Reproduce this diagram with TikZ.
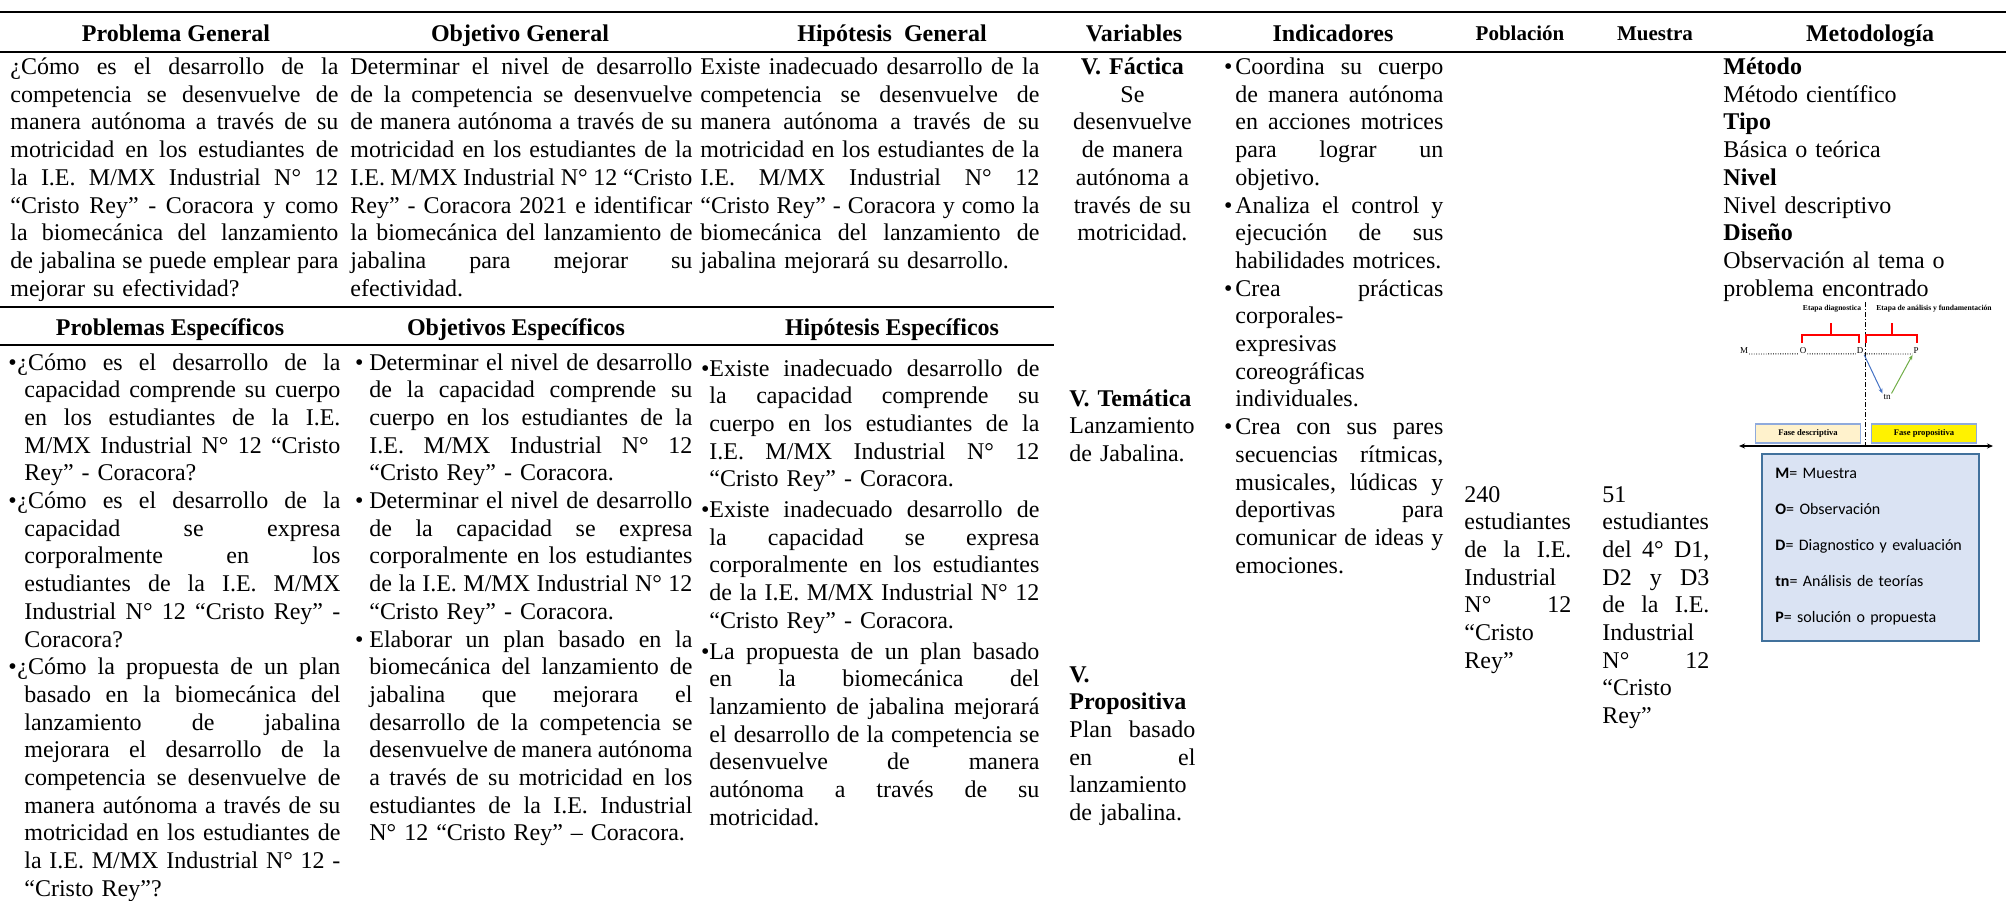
\documentclass[tikz,border=0pt]{standalone}
\usepackage{fontspec}
\setmainfont{Liberation Serif}
\newfontfamily\legendfont{Carlito}
\usepackage{xcolor}
\usepackage{tikz}
\usetikzlibrary{positioning, arrows.meta}

\definecolor{legendfill}{HTML}{DAE3F3}
\definecolor{legenddraw}{HTML}{41719C}
\definecolor{descfill}{HTML}{FFF2CC}
\definecolor{phasedraw}{HTML}{8FAADC}
\definecolor{arrowblue}{HTML}{4472C4}
\definecolor{arrowgreen}{HTML}{70AD47}

\newcommand{\bodyfont}{\fontsize{12}{13.85}\selectfont\lineskiplimit=-20pt\relax\frenchspacing}
\newcommand{\jline}[1]{\hbox to\linewidth{\spaceskip=0.25em plus 3em minus 0.1em\relax #1}\par}
\newcommand{\fline}[1]{\hbox to\linewidth{#1\hfil}\par}
\newcommand{\mline}[1]{\hbox to\linewidth{\hfil#1\hfil}\par}

\begin{document}
\begin{tikzpicture}[
    x=0.5pt, y=-0.5pt,
    rule_style/.style={line width=1.1pt},
    mid_rule_style/.style={line width=0.9pt},
    head_style/.style={font=\bodyfont\bfseries, anchor=base, inner sep=0pt},
    small_head_style/.style={font=\fontsize{10.5}{12}\selectfont\bfseries, anchor=base, inner sep=0pt},
    cell_style/.style={anchor=base west, inner sep=0pt, font=\bodyfont},
    etapa_style/.style={font=\fontsize{3.8}{4}\selectfont\bfseries, inner sep=0.5pt},
    letter_style/.style={font=\fontsize{4.5}{5}\selectfont, inner sep=0.3pt},
    dot_style/.style={line width=0.45pt, dash pattern=on 0.45pt off 0.75pt},
    brace_style/.style={red, line width=0.6pt},
    split_style/.style={line width=0.5pt, dash pattern=on 2.5pt off 1pt on 0.5pt off 1pt},
    blue_arrow/.style={arrowblue, line width=0.5pt, -{Stealth[length=2.5pt, width=2pt]}},
    green_arrow/.style={arrowgreen, line width=0.5pt, -{Stealth[length=2.5pt, width=2pt]}},
    phase_style/.style={draw=phasedraw, line width=0.6pt, minimum width=52.5pt, minimum height=9.5pt, inner sep=0pt, font=\fontsize{4.3}{5}\selectfont\bfseries},
    axis_style/.style={line width=0.7pt, {Stealth[length=3pt, width=2.5pt]}-{Stealth[length=3pt, width=2.5pt]}},
    legend_box/.style={draw=legenddraw, fill=legendfill, line width=0.8pt, minimum width=108.5pt, minimum height=93.5pt, anchor=north west, inner sep=0pt},
    legend_text/.style={anchor=base west, inner sep=0pt, text width=100pt, align=left, font=\legendfont\fontsize{8}{18}\selectfont}
]
    \useasboundingbox (0,0) rectangle (2006,900);

    % Rules
    \draw[rule_style] (0,12) -- (2006,12);
    \draw[rule_style] (0,52) -- (2006,52);
    \draw[mid_rule_style] (0,307) -- (1054,307);
    \draw[mid_rule_style] (0,345) -- (1054,345);

    % Headers
    \node[head_style] (h_prob) at (176,41) {Problema General};
    \node[head_style] (h_obj) at (520,41) {Objetivo General};
    \node[head_style] (h_hip) at (892,41) {Hipótesis\ \ General};
    \node[head_style] (h_var) at (1134,41) {Variables};
    \node[head_style] (h_ind) at (1333,41) {Indicadores};
    \node[small_head_style] (h_pob) at (1520,40) {Población};
    \node[small_head_style] (h_mue) at (1655,40) {Muestra};
    \node[head_style] (h_met) at (1870,41) {Metodología};
    \node[head_style] (h_probs) at (170,335) {Problemas Específicos};
    \node[head_style] (h_objs) at (516,335) {Objetivos Específicos};
    \node[head_style] (h_hips) at (892,335) {Hipótesis Específicos};

    % General row
    \node[cell_style, text width=164pt] (prob_gen) at (10,74.5) {%
\jline{¿Cómo es el desarrollo de la}
\jline{competencia se desenvuelve de}
\jline{manera autónoma a través de su}
\jline{motricidad en los estudiantes de}
\jline{la I.E. M/MX Industrial N° 12}
\jline{“Cristo Rey” -  Coracora y como}
\jline{la biomecánica del lanzamiento}
\jline{de jabalina se puede emplear para}
\fline{mejorar su efectividad?}};
    \node[cell_style, text width=171pt] (obj_gen) at (350,74.5) {%
\jline{Determinar el nivel de desarrollo}
\jline{de la competencia se desenvuelve}
\jline{de manera autónoma a través de su}
\jline{motricidad en los estudiantes de la}
\jline{I.E. M/MX Industrial N° 12 “Cristo}
\jline{Rey” -  Coracora 2021 e identificar}
\jline{la biomecánica del lanzamiento de}
\jline{jabalina para mejorar su}
\fline{efectividad.}};
    \node[cell_style, text width=169.5pt] (hip_gen) at (700,74.5) {%
\jline{Existe inadecuado desarrollo de la}
\jline{competencia se desenvuelve de}
\jline{manera autónoma a través de su}
\jline{motricidad en los estudiantes de la}
\jline{I.E. M/MX Industrial N° 12}
\jline{“Cristo Rey” - Coracora y como la}
\jline{biomecánica del lanzamiento de}
\fline{jabalina mejorará su desarrollo.}};
    \node[cell_style, text width=63pt] (var_fac) at (1069,74.5) {%
\mline{\textbf{V. Fáctica}}
\mline{Se}
\mline{desenvuelve}
\mline{de manera}
\mline{autónoma a}
\mline{través de su}
\mline{motricidad.}};
    \node[cell_style, text width=104pt] (indic) at (1235,74.5) {%
\jline{\llap{\textbullet\hspace{1.5pt}}Coordina su cuerpo}
\jline{de manera autónoma}
\jline{en acciones motrices}
\jline{para lograr un}
\fline{objetivo.}
\jline{\llap{\textbullet\hspace{1.5pt}}Analiza el control y}
\jline{ejecución de sus}
\fline{habilidades motrices.}
\jline{\llap{\textbullet\hspace{1.5pt}}Crea prácticas}
\fline{corporales-}
\fline{expresivas}
\fline{coreográficas}
\fline{individuales.}
\jline{\llap{\textbullet\hspace{1.5pt}}Crea con sus pares}
\jline{secuencias rítmicas,}
\jline{musicales, lúdicas y}
\jline{deportivas para}
\jline{comunicar de ideas y}
\fline{emociones.}};
    \node[cell_style, text width=53.5pt] (poblacion) at (1464,502) {%
\fline{240}
\fline{estudiantes}
\jline{de la I.E.}
\fline{Industrial}
\jline{N° 12}
\fline{“Cristo}
\fline{Rey”}};
    \node[cell_style, text width=53.5pt] (muestra) at (1602,502) {%
\fline{51}
\fline{estudiantes}
\jline{del 4° D1,}
\jline{D2 y D3}
\jline{de la I.E.}
\fline{Industrial}
\jline{N° 12}
\fline{“Cristo}
\fline{Rey”}};
    \node[cell_style, text width=140pt] (metodo) at (1723,74.5) {%
\fline{\textbf{Método}}
\fline{Método científico}
\fline{\textbf{Tipo}}
\fline{Básica o teórica}
\fline{\textbf{Nivel}}
\fline{Nivel descriptivo}
\fline{\textbf{Diseño}}
\fline{Observación al tema o}
\fline{problema encontrado}};

    % Specific row
    \node[cell_style, text width=158pt] (prob_esp) at (24,370) {%
\jline{\hspace{-3.5pt}\llap{\textbullet\hspace{0.3pt}}¿Cómo es el desarrollo de la}
\jline{capacidad comprende su cuerpo}
\jline{en los estudiantes de la I.E.}
\jline{M/MX Industrial N° 12 “Cristo}
\fline{Rey” -  Coracora?}
\jline{\hspace{-3.5pt}\llap{\textbullet\hspace{0.3pt}}¿Cómo es el desarrollo de la}
\jline{capacidad se expresa}
\jline{corporalmente en los}
\jline{estudiantes de la I.E. M/MX}
\jline{Industrial N° 12 “Cristo Rey” -}
\fline{Coracora?}
\jline{\hspace{-3.5pt}\llap{\textbullet\hspace{0.3pt}}¿Cómo la propuesta de un plan}
\jline{basado en la biomecánica del}
\jline{lanzamiento de jabalina}
\jline{mejorara el desarrollo de la}
\jline{competencia se desenvuelve de}
\jline{manera autónoma a través de su}
\jline{motricidad en los estudiantes de}
\jline{la I.E. M/MX Industrial N° 12 -}
\fline{“Cristo Rey”?}};
    \node[cell_style, text width=161.5pt] (obj_esp) at (369,370) {%
\jline{\llap{\textbullet\hspace{3pt}}Determinar el nivel de desarrollo}
\jline{de la capacidad comprende su}
\jline{cuerpo en los estudiantes de la}
\jline{I.E. M/MX Industrial N° 12}
\fline{“Cristo Rey” -  Coracora.}
\jline{\llap{\textbullet\hspace{3pt}}Determinar el nivel de desarrollo}
\jline{de la capacidad se expresa}
\jline{corporalmente en los estudiantes}
\jline{de la I.E. M/MX Industrial N° 12}
\fline{“Cristo Rey” -  Coracora.}
\jline{\llap{\textbullet\hspace{3pt}}Elaborar un plan basado en la}
\jline{biomecánica del lanzamiento de}
\jline{jabalina que mejorara el}
\jline{desarrollo de la competencia se}
\jline{desenvuelve de manera autónoma}
\jline{a través de su motricidad en los}
\jline{estudiantes de la I.E. Industrial}
\fline{N° 12 “Cristo Rey” – Coracora.}};
    \node[cell_style, text width=165pt] (hip_esp) at (709,376) {%
\jline{\llap{\textbullet}Existe inadecuado desarrollo de}
\jline{la capacidad comprende su}
\jline{cuerpo en los estudiantes de la}
\jline{I.E. M/MX Industrial N° 12}
\fline{“Cristo Rey” - Coracora.}
\vspace{1.5pt}
\jline{\llap{\textbullet}Existe inadecuado desarrollo de}
\jline{la capacidad se expresa}
\jline{corporalmente en los estudiantes}
\jline{de la I.E. M/MX Industrial N° 12}
\fline{“Cristo Rey” - Coracora.}
\vspace{1.5pt}
\jline{\llap{\textbullet}La propuesta de un plan basado}
\jline{en la biomecánica del}
\jline{lanzamiento de jabalina mejorará}
\jline{el desarrollo de la competencia se}
\jline{desenvuelve de manera}
\jline{autónoma a través de su}
\fline{motricidad.}};
    \node[cell_style, text width=63pt] (var_tem) at (1069,406) {%
\fline{\textbf{V. Temática}}
\fline{Lanzamiento}
\fline{de Jabalina.}};
    \node[cell_style, text width=63pt] (var_pro) at (1069,682) {%
\fline{\textbf{V.}}
\fline{\textbf{Propositiva}}
\jline{Plan basado}
\jline{en el}
\fline{lanzamiento}
\fline{de jabalina.}};

    % Design diagram
    \node[etapa_style] (etapa_diag) at (1832,309) {Etapa diagnostica};
    \node[etapa_style] (etapa_anal) at (1934,309) {Etapa de análisis y fundamentación};
    \draw[split_style] (1865,302) -- (1865,446);
    \draw[brace_style] (1802,343) -- (1802,335) -- (1859,335) -- (1859,343);
    \draw[brace_style] (1831,335) -- (1831,323);
    \draw[brace_style] (1866,343) -- (1866,335) -- (1917,335) -- (1917,343);
    \draw[brace_style] (1892,335) -- (1892,323);

    \node[letter_style] (M) at (1744,351) {M};
    \node[letter_style] (O) at (1803,351) {O};
    \node[letter_style] (D) at (1860,351) {D};
    \node[letter_style] (P) at (1916,351) {P};
    \node[letter_style] (tn) at (1887,397) {tn};
    \draw[dot_style] (M.base east) -- (O.base west);
    \draw[dot_style] (O.base east) -- (D.base west);
    \draw[dot_style] (D.base east) -- (P.base west);
    \draw[blue_arrow] (D.south east) -- (tn.north west);
    \draw[green_arrow] (tn.north east) -- (P.south west);

    \node[phase_style, fill=descfill] (fase_desc) at (1808,433.5) {Fase descriptiva};
    \node[phase_style, fill=yellow] (fase_prop) at (1924,433.5) {Fase propositiva};
    \coordinate (axis_l) at (1739,446);
    \coordinate (axis_r) at (1993,446);
    \draw[axis_style] (axis_l) -- (axis_r);

    % Legend
    \node[legend_box] (legend) at (1761,453) {};
    \node[legend_text] (legend_txt) at (1775,478) {\textbf{M}= Muestra\\
\textbf{O}= Observación\\
\textbf{D}= Diagnostico y evaluación\\
\textbf{tn}= Análisis de teorías\\
\textbf{P}= solución o propuesta};
\end{tikzpicture}
\end{document}
